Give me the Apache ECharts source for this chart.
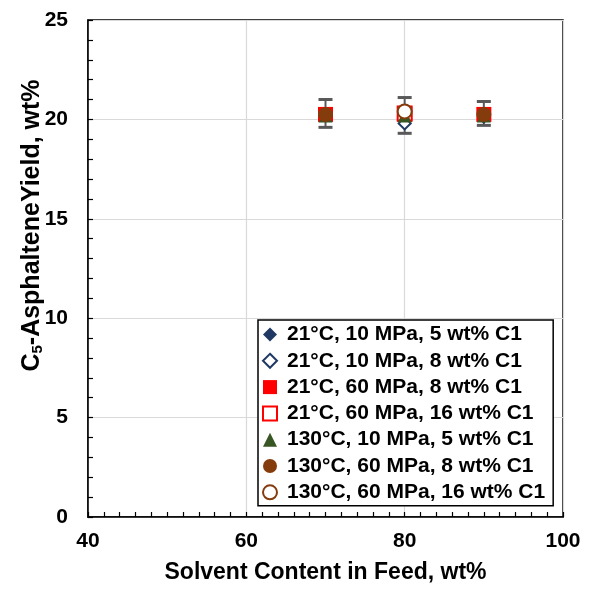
<!DOCTYPE html>
<html><head><meta charset="utf-8">
<script src="https://cdn.jsdelivr.net/npm/echarts@6/dist/echarts.min.js"></script>
<style>html,body{margin:0;padding:0;background:#fff}#c{width:589px;height:590px}</style>
</head><body><div id="c"></div>
<script>
var seriesNames = ["21°C, 10 MPa, 5 wt% C1","21°C, 10 MPa, 8 wt% C1","21°C, 60 MPa, 8 wt% C1","21°C, 60 MPa, 16 wt% C1","130°C, 10 MPa, 5 wt% C1","130°C, 60 MPa, 8 wt% C1","130°C, 60 MPa, 16 wt% C1"];
var s1 = [[70,20.2],[80,20.2],[90,20.1]];
var s2 = [[80,19.8]];
var s3 = [[70,20.25],[80,20.25],[90,20.25]];
var s4 = [[80,20.3]];
var s5 = [[70,20.2],[80,20.2],[90,20.2]];
var s6 = [[70,20.25],[90,20.25]];
var s7 = [[80,20.4]];
var errX = [70,80,90];
var errLow = [19.6,19.3,19.7];
var errHigh = [21.0,21.1,20.9];

var font = 'Arial, "Liberation Sans", sans-serif';
var errData = errX.map(function(x,i){return [x, errLow[i], errHigh[i]];});

function sc(name, data, symbol, size, color, hollow, z){
  return {
    name:name, type:'scatter', data:data, symbol:symbol, symbolSize:size, z:z,
    itemStyle: hollow ? {color:'#fff', borderColor:color, borderWidth:2, opacity:1} : {color:color, borderColor:color, borderWidth:0, opacity:1}
  };
}

var chart = echarts.init(document.getElementById('c'));
chart.setOption({
  animation:false,
  grid:{left:88, right:26, top:20, bottom:73, show:true, borderColor:'#000', borderWidth:1.5, backgroundColor:'transparent'},
  xAxis:{
    type:'value', min:40, max:100, interval:20,
    name:'Solvent Content in Feed, wt%', nameLocation:'middle', nameGap:44, nameMoveOverlap:false,
    nameTextStyle:{fontFamily:font, fontWeight:'bold', fontSize:23, color:'#000'},
    axisLine:{show:true, lineStyle:{color:'#000', width:1.5}},
    axisTick:{show:true, inside:true, length:5, lineStyle:{color:'#000', width:1.2}},
    minorTick:{show:true, splitNumber:10, length:5, lineStyle:{color:'#000', width:1.2}},
    axisLabel:{fontFamily:font, fontWeight:'bold', fontSize:21, color:'#000', margin:14},
    splitLine:{show:true, lineStyle:{color:'#d9d9d9', width:1.2}}
  },
  yAxis:{
    type:'value', min:0, max:25, interval:5,
    name:'{a|C}{s|5}{a|-AsphalteneYield, wt%}', nameLocation:'middle', nameGap:43, nameRotate:90, nameMoveOverlap:false,
    nameTextStyle:{padding:[0,0,0,86], rich:{
      a:{fontFamily:font, fontWeight:'bold', fontSize:25, color:'#000'},
      s:{fontFamily:font, fontWeight:'bold', fontSize:15, color:'#000', verticalAlign:'bottom', padding:[10,0,0,0]}
    }},
    axisLine:{show:true, lineStyle:{color:'#000', width:1.5}},
    axisTick:{show:true, inside:true, length:5, lineStyle:{color:'#000', width:1.2}},
    minorTick:{show:true, splitNumber:5, length:5, lineStyle:{color:'#000', width:1.2}},
    axisLabel:{fontFamily:font, fontWeight:'bold', fontSize:21, color:'#000', margin:20},
    splitLine:{show:true, lineStyle:{color:'#d9d9d9', width:1.2}}
  },
  legend:{
    orient:'vertical', left:258, top:320, data:seriesNames,
    backgroundColor:'#fff', borderColor:'#000', borderWidth:1.5, padding:[4,8,3,4],
    itemWidth:14, itemHeight:14, itemGap:5.3,
    textStyle:{fontFamily:font, fontWeight:'bold', fontSize:21, color:'#000', padding:[0,0,0,5]}
  },
  series:[
    {type:'custom', name:'err', data:errData, z:1, silent:true,
      renderItem:function(params, api){
        var x = api.value(0), lo = api.value(1), hi = api.value(2);
        var p1 = api.coord([x, lo]), p2 = api.coord([x, hi]);
        var w = 7, st = {stroke:'#595959', lineWidth:2};
        return {type:'group', children:[
          {type:'line', shape:{x1:p1[0], y1:p1[1], x2:p2[0], y2:p2[1]}, style:st},
          {type:'line', shape:{x1:p1[0]-w, y1:p1[1], x2:p1[0]+w, y2:p1[1]}, style:{stroke:'#595959', lineWidth:3}},
          {type:'line', shape:{x1:p2[0]-w, y1:p2[1], x2:p2[0]+w, y2:p2[1]}, style:{stroke:'#595959', lineWidth:3}}
        ]};
      }},
    sc(seriesNames[0], s1, 'diamond', 13, '#1f3864', false, 2),
    sc(seriesNames[1], s2, 'diamond', 12, '#1f3864', true, 3),
    sc(seriesNames[2], s3, 'rect', 15, '#ff0000', false, 4),
    sc(seriesNames[3], s4, 'rect', 14, '#ff0000', true, 5),
    sc(seriesNames[4], s5, 'triangle', 14, '#375623', false, 6),
    sc(seriesNames[5], s6, 'circle', 15, '#843c0c', false, 7),
    sc(seriesNames[6], s7, 'circle', 14, '#843c0c', true, 8)
  ]
});
</script></body></html>
